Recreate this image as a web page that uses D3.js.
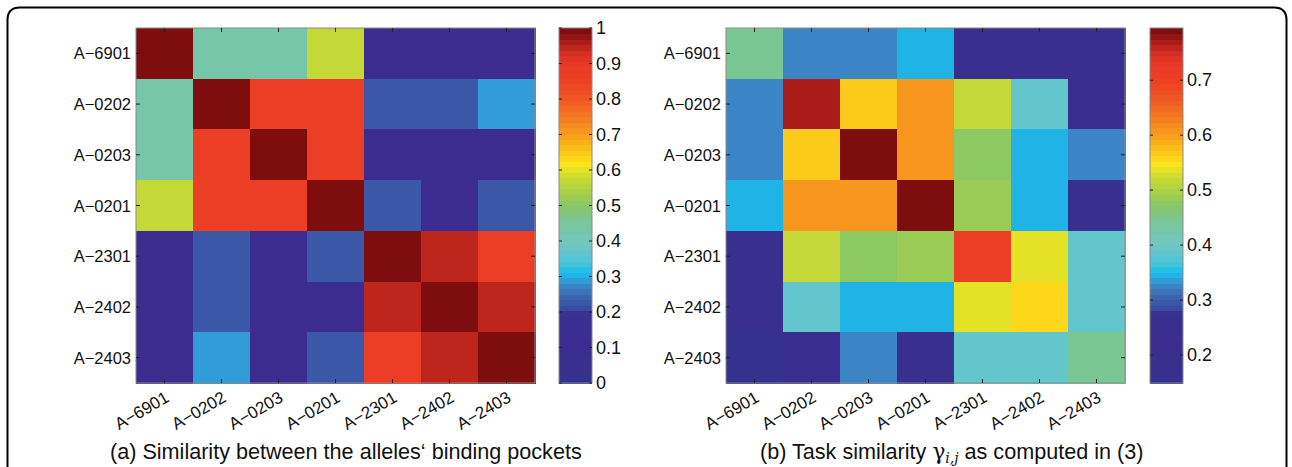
<!DOCTYPE html>
<html><head><meta charset="utf-8">
<script src="https://cdn.jsdelivr.net/npm/d3@7"></script>
<style>
html,body{margin:0;padding:0;background:#fff;}
svg{display:block;font-family:"Liberation Sans",Arial,Helvetica,sans-serif;}
</style></head>
<body>
<svg id="chart" width="1292" height="467"></svg>
<script>
// ---------- data ----------
const alleles = ["A-6901","A-0202","A-0203","A-0201","A-2301","A-2402","A-2403"];

const pocketSimilarity = [
  [1.00, 0.43, 0.43, 0.57, 0.10, 0.10, 0.10],
  [0.43, 1.00, 0.86, 0.86, 0.22, 0.22, 0.29],
  [0.43, 0.86, 1.00, 0.86, 0.10, 0.10, 0.10],
  [0.57, 0.86, 0.86, 1.00, 0.22, 0.10, 0.22],
  [0.10, 0.22, 0.10, 0.22, 1.00, 0.94, 0.86],
  [0.10, 0.22, 0.10, 0.10, 0.94, 1.00, 0.94],
  [0.10, 0.29, 0.10, 0.22, 0.86, 0.94, 1.00]
];

const taskSimilarity = [
  [0.446, 0.323, 0.323, 0.349, 0.170, 0.170, 0.170],
  [0.323, 0.772, 0.569, 0.608, 0.517, 0.388, 0.200],
  [0.323, 0.569, 0.795, 0.608, 0.482, 0.349, 0.330],
  [0.349, 0.608, 0.608, 0.795, 0.490, 0.349, 0.180],
  [0.170, 0.517, 0.482, 0.490, 0.705, 0.533, 0.388],
  [0.170, 0.388, 0.349, 0.349, 0.533, 0.553, 0.388],
  [0.149, 0.200, 0.330, 0.180, 0.388, 0.388, 0.446]
];

const ticksA = [0, 0.1, 0.2, 0.3, 0.4, 0.5, 0.6, 0.7, 0.8, 0.9, 1];
const ticksB = [0.2, 0.3, 0.4, 0.5, 0.6, 0.7];
const domainA = [0, 1];
const domainB = [0.149, 0.795];

// colormap stops (position, colour)
const cmapPos = [0,0.10,0.19,0.20,0.22,0.25,0.27,0.29,0.31,0.33,0.36,0.40,0.45,0.50,0.55,0.59,0.62,0.66,0.70,0.75,0.80,0.85,0.90,0.93,0.96,1.00];
const cmapCol = ["#35318f","#3d2c8f","#3a2f91","#3a45a0","#3a56a6","#3b6db4","#3b84c6","#2ea3dc","#14bfee","#40c3de","#60c6cf","#74c8bb","#77c79e","#86c767","#b2d241","#d3de2e","#fde51d","#fcc216","#f8a11b","#f47c20","#f15a24","#ee4223","#ea3a25","#da3223","#b42019","#7e0e0e"];

// ---------- drawing ----------
const svg = d3.select("#chart");
const cmapInterp = d3.scaleLinear().domain(cmapPos).range(cmapCol).interpolate(d3.interpolateRgb).clamp(true);
const NLEV = 64;
function levelColor(k){ return cmapInterp(k/(NLEV-1)); }

// frame
svg.append("path")
  .attr("d","M7.5,480 V20 Q7.5,7.5 20,7.5 H1274 Q1286.5,7.5 1286.5,20 V480")
  .attr("fill","none").attr("stroke","#000").attr("stroke-width",2);

function panel(cfg){
  const g = svg.append("g");
  const x = d3.scaleBand().domain(alleles).range([cfg.x0, cfg.x1]).padding(0);
  const y = d3.scaleBand().domain(alleles).range([cfg.y0, cfg.y1]).padding(0);
  const norm = d3.scaleLinear().domain(cfg.domain).range([0,1]).clamp(true);
  const col = v => levelColor(Math.min(NLEV-1, Math.floor(norm(v)*NLEV)));

  const cells = [];
  cfg.data.forEach((row,i)=>row.forEach((v,j)=>cells.push({r:alleles[i],c:alleles[j],v})));
  g.selectAll("rect.cell").data(cells).join("rect")
    .attr("class","cell")
    .attr("x",d=>x(d.c)).attr("y",d=>y(d.r))
    .attr("width",x.bandwidth()+0.5).attr("height",y.bandwidth()+0.5)
    .attr("fill",d=>col(d.v)).attr("shape-rendering","crispEdges");

  // box
  g.append("rect").attr("x",cfg.x0).attr("y",cfg.y0)
    .attr("width",cfg.x1-cfg.x0).attr("height",cfg.y1-cfg.y0)
    .attr("fill","none").attr("stroke","#8a8a8a").attr("stroke-width",1);

  // ticks inward
  const tl = 4;
  const tk = g.append("g").attr("stroke","#222").attr("stroke-width",1);
  alleles.forEach(a=>{
    const cx = x(a)+x.bandwidth()/2, cy = y(a)+y.bandwidth()/2;
    tk.append("line").attr("x1",cx).attr("x2",cx).attr("y1",cfg.y1).attr("y2",cfg.y1-tl);
    tk.append("line").attr("x1",cx).attr("x2",cx).attr("y1",cfg.y0).attr("y2",cfg.y0+tl);
    tk.append("line").attr("x1",cfg.x0).attr("x2",cfg.x0+tl).attr("y1",cy).attr("y2",cy);
    tk.append("line").attr("x1",cfg.x1).attr("x2",cfg.x1-tl).attr("y1",cy).attr("y2",cy);
  });

  // row labels
  g.selectAll("text.row").data(alleles).join("text")
    .attr("class","row")
    .attr("x",cfg.x0-5).attr("y",d=>y(d)+y.bandwidth()/2)
    .attr("text-anchor","end").attr("dominant-baseline","central")
    .attr("font-size",16.5).attr("fill","#111")
    .text(d=>d.replace("-","\u2212"));

  // column labels
  g.selectAll("text.col").data(alleles).join("text")
    .attr("class","col")
    .attr("transform",d=>`translate(${x(d)+x.bandwidth()/2+3},${cfg.y1+13}) rotate(-30)`)
    .attr("text-anchor","end").attr("dominant-baseline","central")
    .attr("font-size",17).attr("fill","#111")
    .text(d=>d.replace("-","\u2212"));

  // colorbar
  const cb = svg.append("g");
  const cy = d3.scaleLinear().domain(cfg.domain).range([cfg.y1, cfg.y0]);
  const levels = d3.range(NLEV);
  const h = (cfg.y1-cfg.y0)/NLEV;
  cb.selectAll("rect.lev").data(levels).join("rect")
    .attr("class","lev")
    .attr("x",cfg.cbx0).attr("width",cfg.cbx1-cfg.cbx0)
    .attr("y",k=>cfg.y1-(k+1)*h).attr("height",h+0.6)
    .attr("fill",k=>levelColor(k)).attr("shape-rendering","crispEdges");
  cb.append("rect").attr("x",cfg.cbx0).attr("y",cfg.y0)
    .attr("width",cfg.cbx1-cfg.cbx0).attr("height",cfg.y1-cfg.y0)
    .attr("fill","none").attr("stroke","#8a8a8a").attr("stroke-width",1);
  const ct = cb.append("g").attr("stroke","#222").attr("stroke-width",1);
  cfg.ticks.forEach(t=>{
    const yy = cy(t);
    ct.append("line").attr("x1",cfg.cbx0).attr("x2",cfg.cbx0+3).attr("y1",yy).attr("y2",yy);
    ct.append("line").attr("x1",cfg.cbx1).attr("x2",cfg.cbx1-3).attr("y1",yy).attr("y2",yy);
  });
  cb.selectAll("text.cbt").data(cfg.ticks).join("text")
    .attr("class","cbt")
    .attr("x",cfg.cbx1+4).attr("y",t=>cy(t))
    .attr("dominant-baseline","central").attr("font-size",18).attr("fill","#111")
    .text(t=>d3.format("~g")(t));
}

panel({data:pocketSimilarity, domain:domainA, ticks:ticksA,
  x0:136, x1:535, y0:28, y1:383, cbx0:559, cbx1:592});
panel({data:taskSimilarity, domain:domainB, ticks:ticksB,
  x0:726, x1:1125, y0:28, y1:383, cbx0:1150, cbx1:1183});

// captions
svg.append("text").attr("x",110).attr("y",459)
  .attr("font-size",21.6).attr("fill","#111")
  .text("(a) Similarity between the alleles\u2018 binding pockets");

const cap2 = svg.append("text").attr("x",760).attr("y",459)
  .attr("font-size",21.6).attr("fill","#111");
cap2.append("tspan").text("(b) Task similarity ");
cap2.append("tspan").attr("font-family","'DejaVu Serif',serif").text("\u03B3");
cap2.append("tspan").attr("font-size",14).attr("font-style","italic")
  .attr("font-family","'DejaVu Serif',serif").attr("dy",4).text("i,j");
cap2.append("tspan").attr("dy",-4).text(" as computed in (3)");
</script>
</body></html>
